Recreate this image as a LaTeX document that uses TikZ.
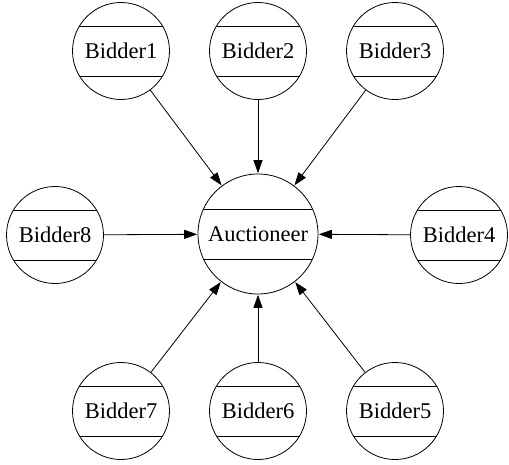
\documentclass[tikz,border=0pt]{standalone}
\usepackage{fontspec}
\setmainfont{Liberation Serif}
\usetikzlibrary{arrows.meta}
\begin{document}
\begin{tikzpicture}[x=1pt,y=-1pt,
  agent/.style={circle,draw,line width=0.8pt,minimum size=#1,inner sep=0pt,
    font=\fontsize{22.5}{24}\selectfont,
    path picture={
      \draw[line width=0.8pt] ([yshift=25pt]path picture bounding box.west) -- ([yshift=25pt]path picture bounding box.east);
      \draw[line width=0.8pt] ([yshift=-25pt]path picture bounding box.west) -- ([yshift=-25pt]path picture bounding box.east);
    }},
  agent/.default=97pt,
  link/.style={line width=0.8pt,-{Triangle[length=13pt,width=9pt]},shorten >=0.4pt}]
\useasboundingbox (0,0) rectangle (509,464);
\node[agent=120pt] (auc) at (258,234) {Auctioneer};
\node[agent] (b1) at (121,51) {Bidder1};
\node[agent] (b2) at (258,51) {Bidder2};
\node[agent] (b3) at (395,51) {Bidder3};
\node[agent] (b4) at (459,235) {Bidder4};
\node[agent] (b5) at (395,411) {Bidder5};
\node[agent] (b6) at (258,411) {Bidder6};
\node[agent] (b7) at (121,411) {Bidder7};
\node[agent] (b8) at (55,235) {Bidder8};
\foreach \b in {b1,b2,b3,b4,b5,b6,b7,b8}
  \draw[link] (\b) -- (auc);
\end{tikzpicture}
\end{document}
